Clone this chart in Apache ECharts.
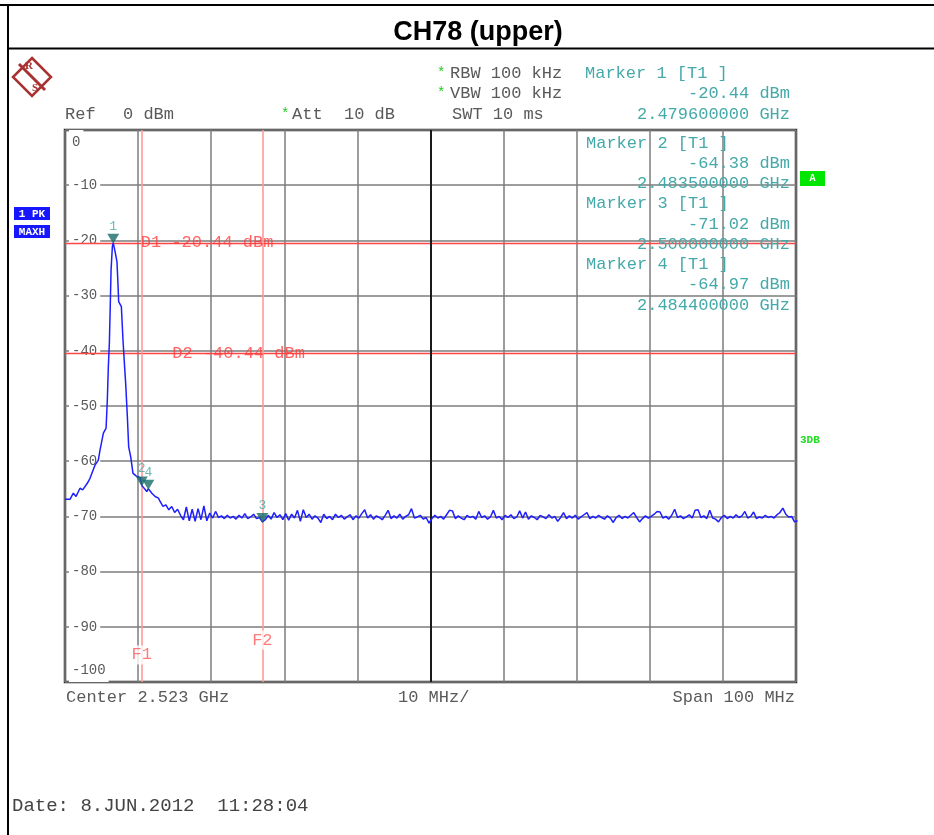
<!DOCTYPE html>
<html>
<head>
<meta charset="utf-8">
<script src="https://cdn.jsdelivr.net/npm/echarts@6/dist/echarts.min.js"></script>
<style>html,body{margin:0;padding:0;background:#fff}#c{width:934px;height:835px}</style>
</head>
<body>
<div id="c"></div>
<script>
// ---- data ----
const centerGHz = 2.523;
const spanMHz = 100;
const yTicks = [0, -10, -20, -30, -40, -50, -60, -70, -80, -90, -100];

// trace around the carrier (frequency GHz / level dBm)
const peakFreqGHz = [2.47300, 2.47368, 2.47414, 2.47451, 2.47505, 2.47542, 2.47605, 2.47642, 2.47711, 2.47756,
  2.47779, 2.47825, 2.47862, 2.47879, 2.47893, 2.47907, 2.47919, 2.47930, 2.47948, 2.47960,
  2.47989, 2.48011, 2.48025, 2.48034, 2.48071, 2.48093, 2.48116, 2.48130, 2.48153, 2.48171,
  2.48199, 2.48230, 2.48277, 2.48327, 2.48350, 2.48370, 2.48419, 2.48440, 2.48450, 2.48488,
  2.48533, 2.48578, 2.48601];
const peakLevelDbm = [-66.9, -66.9, -65.8, -66.4, -64.9, -65.2, -64.0, -63.1, -60.7, -59.8,
  -58.0, -54.9, -54.0, -48.9, -42.9, -38.5, -32.0, -25.4, -21.1, -20.44,
  -22.3, -23.9, -28.0, -31.1, -32.0, -38.0, -43.0, -45.9, -51.9, -57.4,
  -59.2, -62.2, -62.7, -63.0, -64.38, -64.6, -65.5, -64.97, -64.9, -65.8,
  -66.4, -66.7, -67.3];

// noise floor, sampled every 0.4 MHz from 2.4864 GHz
const floorStartGHz = 2.4864;
const floorStepGHz = 0.0004;
const floorLevelDbm = [
  -68.2,-67.9,-68.8,-68.2,-69.3,-68.7,-69.8,-70.6,-68.3,-70.8,
  -68.7,-70.9,-68.6,-70.6,-68.1,-70.8,-69.4,-70.3,-69.1,-70.2,
  -69.9,-70.4,-69.8,-70.3,-70.0,-70.5,-69.8,-70.3,-69.5,-70.4,
  -70.1,-69.6,-70.4,-70.2,-71.0,-70.6,-69.8,-70.5,-69.3,-70.2,
  -69.7,-70.6,-69.5,-70.7,-69.6,-70.3,-68.9,-70.9,-68.8,-70.2,
  -69.6,-70.5,-69.9,-70.3,-71.1,-69.6,-70.4,-70.0,-70.6,-69.6,
  -70.2,-69.8,-70.5,-70.1,-69.7,-70.6,-69.9,-70.3,-69.5,-68.8,
  -70.3,-69.7,-70.5,-69.9,-70.2,-70.6,-69.8,-68.9,-70.4,-69.9,
  -70.3,-69.6,-70.5,-70.0,-69.7,-68.6,-70.3,-70.1,-69.8,-70.5,
  -70.2,-71.2,-70.4,-69.8,-70.3,-70.0,-70.5,-69.7,-68.9,-69.0,
  -70.4,-69.9,-70.3,-70.6,-69.8,-70.2,-70.0,-70.5,-69.1,-70.2,
  -69.9,-70.5,-70.1,-68.9,-70.3,-70.0,-70.6,-69.8,-70.2,-69.7,
  -70.4,-70.1,-69.0,-70.3,-69.2,-70.5,-69.9,-70.2,-70.6,-69.8,
  -70.1,-70.4,-69.7,-70.3,-70.0,-70.9,-70.2,-69.3,-70.4,-69.9,
  -70.3,-69.8,-70.5,-70.1,-69.7,-69.3,-70.4,-70.0,-70.3,-69.8,
  -70.2,-70.5,-69.9,-70.3,-71.1,-70.2,-69.8,-70.4,-70.0,-70.3,
  -69.8,-69.3,-70.2,-71.0,-70.4,-69.9,-70.3,-70.0,-69.6,-69.1,
  -69.2,-70.3,-70.0,-70.5,-69.8,-68.7,-70.2,-69.9,-70.4,-70.1,
  -69.7,-70.3,-68.9,-68.8,-70.2,-69.9,-70.4,-68.9,-70.3,-70.5,
  -71.0,-70.2,-69.8,-70.4,-70.0,-70.3,-69.7,-70.2,-69.9,-69.1,
  -70.3,-70.0,-69.2,-70.4,-70.1,-70.3,-69.8,-70.2,-70.0,-70.3,
  -69.7,-69.3,-68.5,-69.6,-70.1,-70.0,-71.0,-70.8];

const markerNames = ['1', '2', '3', '4'];
const markerFreqGHz = [2.4796, 2.4835, 2.5000, 2.4844];
const markerLevelDbm = [-20.44, -64.38, -71.02, -64.97];

const displayLineNames = ['D1', 'D2'];
const displayLineDbm = [-20.44, -40.44];
const displayLabelFreqGHz = [2.48330, 2.48760];

const freqLineNames = ['F1', 'F2'];
const freqLineGHz = [2.4835, 2.5000];
const freqLabelDbm = [-95.1, -92.4];

// ---- build ----
const startGHz = centerGHz - spanMHz / 2000;
const toX = f => (f - startGHz) * 1000;   // MHz from left edge

const trace = [];
peakFreqGHz.forEach((f, i) => trace.push([toX(f), peakLevelDbm[i]]));
floorLevelDbm.forEach((v, i) => trace.push([toX(floorStartGHz + i * floorStepGHz), v]));

const mono = '"Liberation Mono","Courier New",monospace';
const grey = '#5a5a5a';
const teal = '#45a9a9';
const red = '#ff3c3c';

const markLines = [];
displayLineDbm.forEach(v => markLines.push({ yAxis: v, lineStyle: { color: '#ff4545', width: 1.3, type: 'solid' } }));
freqLineGHz.forEach(f => markLines.push({ xAxis: toX(f), lineStyle: { color: '#ff9a9a', width: 1.6, type: 'solid' } }));
markLines.push({ xAxis: spanMHz / 2, lineStyle: { color: '#1a1a1a', width: 2, type: 'solid' } });

const annot = [];
displayLineNames.forEach((n, i) => annot.push({
  value: [toX(displayLabelFreqGHz[i]), displayLineDbm[i]],
  label: { show: true, position: 'right', distance: 0, formatter: n + ' ' + displayLineDbm[i].toFixed(2) + ' dBm',
    color: red, fontFamily: mono, fontSize: 17 }
}));
freqLineNames.forEach((n, i) => annot.push({
  value: [toX(freqLineGHz[i]), freqLabelDbm[i]],
  label: { show: true, position: 'inside', formatter: n, color: '#ff5a5a', fontFamily: mono, fontSize: 17,
    backgroundColor: '#ffffff', padding: [1, 1] }
}));

const markers = markerNames.map((n, i) => ({ name: n, value: [toX(markerFreqGHz[i]), markerLevelDbm[i]] }));

function txt(text, x, y, opt) {
  return { type: 'text', x: x, y: y, silent: true, z: 100,
    style: Object.assign({ text: text, font: '17px ' + mono, fill: grey, textVerticalAlign: 'middle', textAlign: 'left' }, opt || {}) };
}
function hline(x1, y, x2, w) {
  return { type: 'line', silent: true, shape: { x1: x1, y1: y, x2: x2, y2: y }, style: { stroke: '#000', lineWidth: w || 2 } };
}

const logoRed = '#a83232';
const graphics = [
  hline(0, 5, 934, 2),
  hline(8, 48.5, 934, 2),
  { type: 'line', silent: true, shape: { x1: 8, y1: 4, x2: 8, y2: 835 }, style: { stroke: '#000', lineWidth: 2 } },
  { type: 'text', x: 478, y: 33, silent: true, style: { text: 'CH78 (upper)', font: 'bold 27px "Liberation Sans", Arial, sans-serif', fill: '#000', textAlign: 'center', textVerticalAlign: 'middle' } },
  // logo
  { type: 'polygon', silent: true, shape: { points: [[32, 58], [51, 77], [32, 96], [13, 77]] }, style: { fill: 'none', stroke: logoRed, lineWidth: 2.5 } },
  { type: 'line', silent: true, shape: { x1: 19, y1: 64, x2: 45, y2: 90 }, style: { stroke: logoRed, lineWidth: 3 } },
  txt('R', 29, 66, { font: 'bold 11px "Liberation Serif", serif', fill: logoRed, textAlign: 'center' }),
  txt('S', 35, 88, { font: 'bold 11px "Liberation Serif", serif', fill: logoRed, textAlign: 'center' }),
  // header
  txt('*', 437, 73, { fill: '#22cc22', font: '14px ' + mono }),
  txt('RBW 100 kHz', 450, 73),
  txt('*', 437, 93, { fill: '#22cc22', font: '14px ' + mono }),
  txt('VBW 100 kHz', 450, 93),
  txt('Ref', 65, 114),
  txt('0 dBm', 123, 114),
  txt('*', 281, 114, { fill: '#22cc22', font: '14px ' + mono }),
  txt('Att', 292, 114),
  txt('10 dB', 344, 114),
  txt('SWT 10 ms', 452, 114),
  txt('Marker 1 [T1 ]', 585, 73, { fill: teal }),
  txt('-20.44 dBm', 790, 93, { fill: teal, textAlign: 'right' }),
  txt('2.479600000 GHz', 790, 114, { fill: teal, textAlign: 'right' }),
  // marker table in plot
  txt('Marker 2 [T1 ]', 586, 143, { fill: teal }),
  txt('-64.38 dBm', 790, 163, { fill: teal, textAlign: 'right' }),
  txt('2.483500000 GHz', 790, 183, { fill: teal, textAlign: 'right' }),
  txt('Marker 3 [T1 ]', 586, 203, { fill: teal }),
  txt('-71.02 dBm', 790, 224, { fill: teal, textAlign: 'right' }),
  txt('2.500000000 GHz', 790, 244, { fill: teal, textAlign: 'right' }),
  txt('Marker 4 [T1 ]', 586, 264, { fill: teal }),
  txt('-64.97 dBm', 790, 284, { fill: teal, textAlign: 'right' }),
  txt('2.484400000 GHz', 790, 305, { fill: teal, textAlign: 'right' }),
  // left side boxes
  { type: 'rect', silent: true, shape: { x: 14, y: 207, width: 36, height: 13 }, style: { fill: '#1616ff' } },
  txt('1 PK', 32, 214, { fill: '#fff', font: 'bold 11px ' + mono, textAlign: 'center' }),
  { type: 'rect', silent: true, shape: { x: 14, y: 225, width: 36, height: 13 }, style: { fill: '#1616ff' } },
  txt('MAXH', 32, 232, { fill: '#fff', font: 'bold 11px ' + mono, textAlign: 'center' }),
  // right side
  { type: 'rect', silent: true, shape: { x: 800, y: 171, width: 25, height: 15 }, style: { fill: '#00e600' } },
  txt('A', 812.5, 178.5, { fill: '#fff', font: 'bold 10px ' + mono, textAlign: 'center' }),
  txt('3DB', 800, 440, { fill: '#22dd22', font: 'bold 11px ' + mono }),
  // bottom
  txt('Center 2.523 GHz', 66, 697),
  txt('10 MHz/', 398, 697),
  txt('Span 100 MHz', 795, 697, { textAlign: 'right' }),
  txt('Date: 8.JUN.2012  11:28:04', 12, 806, { font: '19px ' + mono, fill: '#444' })
];

const chart = echarts.init(document.getElementById('c'), null, { renderer: 'canvas' });
chart.setOption({
  animation: false,
  backgroundColor: '#ffffff',
  grid: { left: 65, top: 130, width: 731, height: 552, show: true, borderColor: '#2a2a2a', borderWidth: 2.5, backgroundColor: 'transparent' },
  xAxis: {
    type: 'value', min: 0, max: spanMHz, interval: 10,
    axisLine: { show: false }, axisTick: { show: false }, axisLabel: { show: false },
    splitLine: { show: true, lineStyle: { color: '#7d7d7d', width: 1.5 } }
  },
  yAxis: {
    type: 'value', min: yTicks[yTicks.length - 1], max: yTicks[0], interval: 10,
    axisLine: { show: false }, axisTick: { show: false },
    splitLine: { show: true, lineStyle: { color: '#7d7d7d', width: 1.5 } },
    axisLabel: {
      inside: true, margin: 4, color: grey, fontFamily: mono, fontSize: 14,
      backgroundColor: '#ffffff', padding: [5, 3],
      verticalAlignMinLabel: 'bottom', verticalAlignMaxLabel: 'top'
    }
  },
  graphic: graphics,
  series: [
    {
      type: 'line', data: trace, symbol: 'none', z: 3,
      lineStyle: { color: '#1e1eff', width: 1.5 },
      markLine: { silent: true, symbol: ['none', 'none'], label: { show: false }, data: markLines, z: 2 }
    },
    {
      type: 'scatter', data: annot, symbolSize: 1, itemStyle: { color: 'rgba(0,0,0,0)' }, z: 4, silent: true
    },
    {
      type: 'scatter', data: markers, z: 5, silent: true,
      symbol: 'triangle', symbolRotate: 180, symbolSize: [12, 10], symbolOffset: [0, -4],
      itemStyle: { color: '#176b6b' },
      label: { show: true, position: 'top', distance: 1, formatter: '{b}', color: teal, fontFamily: mono, fontSize: 13 }
    }
  ]
});
</script>
</body>
</html>
